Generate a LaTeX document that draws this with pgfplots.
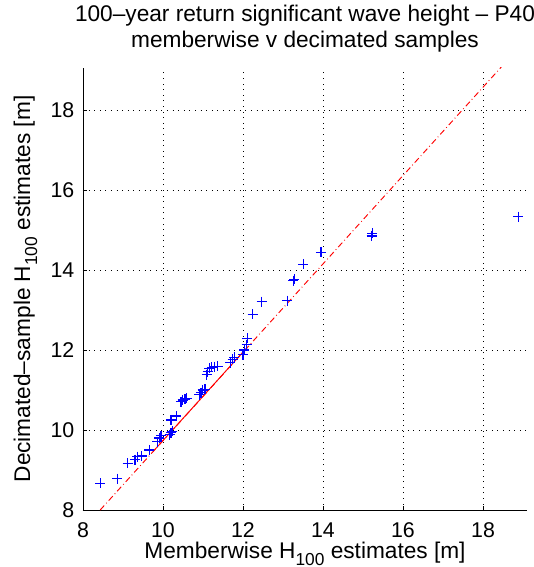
\documentclass[border=0pt]{standalone}
\usepackage{fontspec}
\setmainfont{Liberation Sans}
\usepackage{pgfplots}
\pgfplotsset{compat=1.18}
\newcommand{\sub}[1]{\raisebox{-0.6ex}{\fontsize{13}{14}\selectfont #1}}
\begin{document}
\fontsize{16}{19}\selectfont
\begin{tikzpicture}
\path[use as bounding box] (-62.25pt,-42.75pt) rectangle (337.5pt,382.5pt);
\begin{axis}[
  scale only axis,
  width=333pt, height=331.5pt,
  xmin=8, xmax=19.1, ymin=8, ymax=19.05,
  xtick={8,10,...,18}, ytick={8,10,...,18},
  axis lines*=left,
  axis line style={black, line width=0.6pt},
  tick align=inside,
  major tick length=3pt,
  tick style={black, line width=0.5pt},
  grid=major,
  grid style={black, line width=0.5pt, dash pattern=on 0.6pt off 3.6pt},
  /pgf/number format/assume math mode=true,
  tick label style={font=\fontsize{16}{19}\selectfont},
  xticklabel style={yshift=-4pt},
  yticklabel style={xshift=-1pt},
  xlabel={Memberwise H\sub{100} estimates [m]},
  ylabel={Decimated–sample H\sub{100} estimates [m]},
  label style={font=\fontsize{17}{20}\selectfont},
  xlabel style={yshift=8pt},
  ylabel style={yshift=-1pt},
  title={100–year return significant wave height – P40\\memberwise v decimated samples},
  title style={font=\fontsize{17}{20}\selectfont, align=center, yshift=0pt},
  clip=true,
]
% dash-dot reference line over the full range
\addplot[red, line width=0.7pt, dash pattern=on 4.5pt off 2.2pt on 0.6pt off 2.2pt] coordinates {
  (8.43,8.0) (18.48,19.10)
};
% solid part between the quartiles
\addplot[red, line width=0.7pt] coordinates {
  (9.75,9.46) (12.10,12.06)
};
\addplot[only marks, mark=+, color=blue, mark options={draw=blue, solid}, mark size=3.8pt, line width=0.8pt] coordinates {
  (8.43,8.67) (8.86,8.78) (9.12,9.17) (9.30,9.26) (9.36,9.33)
  (9.47,9.35) (9.66,9.50) (9.86,9.71) (9.91,9.80) (9.95,9.86)
  (10.17,9.88) (10.20,9.93) (10.23,9.97) (10.20,10.25) (10.33,10.35)
  (10.45,10.71) (10.49,10.75) (10.55,10.77) (10.59,10.79) (10.91,10.88)
  (10.95,10.93) (10.99,11.00) (11.05,11.02) (11.09,11.38) (11.12,11.46)
  (11.16,11.54) (11.22,11.57) (11.28,11.58) (11.37,11.59) (11.68,11.68)
  (11.74,11.77) (11.78,11.82) (12.00,11.88) (12.03,12.00) (12.09,12.13)
  (12.11,12.29) (12.24,12.89) (12.47,13.21) (13.11,13.23) (13.26,13.73)
  (13.28,13.77) (13.51,14.14) (13.95,14.44) (15.22,14.85) (15.23,14.92)
  (18.88,15.33)
};
\end{axis}
\end{tikzpicture}
\end{document}
